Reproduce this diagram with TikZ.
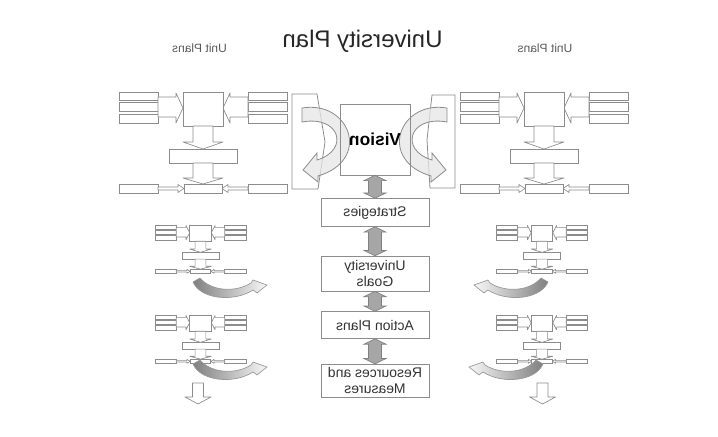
\documentclass[tikz,border=0pt]{standalone}
\usepackage{fontspec}
\setmainfont{Liberation Sans}
\usetikzlibrary{positioning,calc}

\newcommand\linkarrow[2]{%
  \path[link] let \p1=(#1.south), \p2=(#2.north) in
    (\x1-4.9pt,\y1-4pt) -- (\x1-8.25pt,\y1-4pt) -- (\x1,\y1) -- (\x1+8.25pt,\y1-4pt) -- (\x1+4.9pt,\y1-4pt)
    -- (\x1+4.9pt,\y2+4pt) -- (\x1+8.25pt,\y2+4pt) -- (\x1,\y2) -- (\x1-8.25pt,\y2+4pt) -- (\x1-4.9pt,\y2+4pt) -- cycle;}

\begin{document}
\begin{tikzpicture}[x=0.75pt, y=-0.75pt,
  mirrored/.style={xscale=-1},
  ubox/.style={draw=black!45, fill=white, line width=0.5pt},
  uarrow/.style={draw=black!45, fill=white, line width=0.5pt, line join=round},
  cbox/.style={draw=black!45, fill=white, mirrored, minimum width=81pt, inner sep=2pt, align=center, text=black!80, font=\fontsize{10.5}{12}\selectfont},
  link/.style={draw=black!50, fill=black!35, line width=0.5pt},
  varrow/.style={draw=black!45, fill=black!10, fill opacity=0.75, line width=0.6pt},
  bracket/.style={draw=black!45, line width=0.6pt},
  unitlabel/.style={mirrored, text=black!65, font=\fontsize{9}{10}\selectfont},
  unitplan/.pic={
    \foreach \s in {1,-1} {
      \begin{scope}[xscale=\s]
        \foreach \ya/\yb in {0/8, 10.5/19, 22/31}
          \draw[ubox] (-84,\ya) rectangle (-45,\yb);
        \draw[ubox] (-84,92) rectangle (-45,101);
        \draw[uarrow] (-45,5) -- (-27,5) -- (-27,1) -- (-20,16) -- (-27,31) -- (-27,25) -- (-45,25) -- cycle;
        \draw[uarrow] (-45,95) -- (-25,95) -- (-25,92.5) -- (-19,96.5) -- (-25,100.5) -- (-25,98) -- (-45,98) -- cycle;
      \end{scope}
    }
    \draw[ubox] (-20,0) rectangle (20,34);
    \draw[ubox] (-34,57) rectangle (34,71);
    \draw[ubox] (-19,92) rectangle (19,101);
    \foreach \ya/\yh/\yb in {34/50/57, 71/86/92}
      \draw[uarrow] (-10,\ya) -- (10,\ya) -- (10,\yh) -- (20,\yh) -- (0,\yb) -- (-20,\yh) -- (-10,\yh) -- cycle;
  },
  swoosh/.pic={
    \draw[draw=black!40, line width=0.5pt, #1] (0,0) .. controls (8,18) and (42,20) .. (60,8)
      -- (64,11) -- (74,3) -- (60,-2) -- (58,1) .. controls (42,11) and (18,9) .. (7,-4) -- cycle;
  },
]
  \useasboundingbox (0,0) rectangle (718,436);

  % titles
  \node[mirrored, anchor=base, text=black!85, font=\fontsize{18}{20}\selectfont] (title) at (362.5,47) {University Plan};
  \node[unitlabel, anchor=base] (unitsL) at (199.5,52) {Unit Plans};
  \node[unitlabel, anchor=base] (unitsR) at (545,52) {Unit Plans};

  % unit plans
  \pic (planTL) at (203,92) {unitplan};
  \pic (planTR) at (544,92) {unitplan};
  \pic[xscale=0.54, yscale=0.48] (planML) at (200.5,225) {unitplan};
  \pic[xscale=0.54, yscale=0.48] (planBL) at (200.5,315) {unitplan};
  \pic[xscale=0.54, yscale=0.48] (planMR) at (542,225) {unitplan};
  \pic[xscale=0.54, yscale=0.48] (planBR) at (542,315) {unitplan};

  \pic at (193,282) {swoosh={left color=black!50, right color=black!3}};
  \pic at (193,364) {swoosh={left color=black!50, right color=black!3}};
  \pic[xscale=-1] at (548,282) {swoosh={left color=black!3, right color=black!50}};
  \pic[xscale=-1] at (543,364) {swoosh={left color=black!3, right color=black!50}};

  \foreach \x in {198,542.5}
    \draw[uarrow] (\x-5.5,383) -- (\x+5.5,383) -- (\x+5.5,397) -- (\x+13,397) -- (\x,404) -- (\x-13,397) -- (\x-5.5,397) -- cycle;

  % vision
  \draw[bracket] (292,94) -- (317,94) -- (325,142) -- (318,189) -- (292,189) -- cycle;
  \draw[bracket] (455,95) -- (432,95) -- (427,140) -- (430,188) -- (455,188) -- cycle;
  \draw[varrow] (302,108) .. controls (350,100) and (372,160) .. (318,176) -- (318,182) -- (303,170) -- (317,153)
    -- (317,160) .. controls (350,150) and (340,115) .. (302,122) -- cycle;
  \draw[varrow] (447,108) .. controls (399,100) and (377,160) .. (431,176) -- (431,182) -- (446,170) -- (432,153)
    -- (432,160) .. controls (399,150) and (409,115) .. (447,122) -- cycle;
  \node[draw=black!45, mirrored, minimum width=52.5pt, minimum height=53.25pt, font=\fontsize{13}{15}\selectfont\bfseries] (vision) at (375,139.5) {Vision};

  % plan column
  \node[cbox, minimum height=21pt, below=17.25pt of vision] (strategies) {Strategies};
  \node[cbox, minimum height=26.25pt, below=21.75pt of strategies] (goals) {University\\Goals};
  \node[cbox, minimum height=20.25pt, below=15pt of goals] (actions) {Action Plans};
  \node[cbox, minimum height=24.75pt, below=18.75pt of actions] (resources) {Resources and\\Measures};

  \linkarrow{vision}{strategies}
  \linkarrow{strategies}{goals}
  \linkarrow{goals}{actions}
  \linkarrow{actions}{resources}
\end{tikzpicture}
\end{document}
